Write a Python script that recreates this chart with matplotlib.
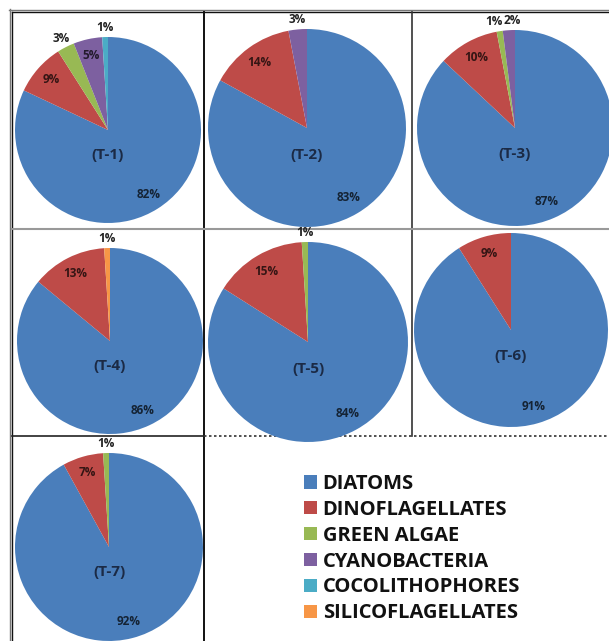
import numpy as np
import matplotlib
matplotlib.use('Agg')
import matplotlib.pyplot as plt
from matplotlib.lines import Line2D
from matplotlib.patches import Rectangle

plt.rcParams['font.family'] = ['Open Sans', 'DejaVu Sans']

groups = ['DIATOMS', 'DINOFLAGELLATES', 'GREEN ALGAE', 'CYANOBACTERIA',
          'COCOLITHOPHORES', 'SILICOFLAGELLATES']
colors = ['#4A7EBB', '#BE4B48', '#98B954', '#7D60A0', '#4BACC6', '#F79646']

stations = ['(T-1)', '(T-2)', '(T-3)', '(T-4)', '(T-5)', '(T-6)', '(T-7)']
t1 = [82, 9, 3, 5, 1, 0]
t2 = [83, 14, 0, 3, 0, 0]
t3 = [87, 10, 1, 2, 0, 0]
t4 = [86, 13, 0, 0, 0, 1]
t5 = [84, 15, 1, 0, 0, 0]
t6 = [91, 9, 0, 0, 0, 0]
t7 = [92, 7, 1, 0, 0, 0]
shares = [t1, t2, t3, t4, t5, t6, t7]

W, H = 609, 641
fig = plt.figure(figsize=(W / 100, H / 100), dpi=100)
fig.patch.set_facecolor('white')

# pie centre and radius in pixels (x from left, y from top)
spots = [(108, 130, 93), (307, 128, 99), (515, 128, 98),
         (110, 341, 93), (308, 342, 100), (511, 330, 97),
         (109, 547, 94)]


def px(x, y):
    return x / W, 1 - y / H


def line(x0, y0, x1, y1, **kw):
    (a, b), (c, d) = px(x0, y0), px(x1, y1)
    fig.add_artist(Line2D([a, c], [b, d], transform=fig.transFigure, zorder=0, **kw))


# cell borders
line(9, 9.5, 609, 9.5, color='#777777', lw=1.0)
line(12, 12, 609, 12, color='#111111', lw=1.0)
line(9.5, 9, 9.5, 641, color='#777777', lw=1.0)
line(12, 12, 12, 641, color='#111111', lw=1.0)
line(203.5, 12, 203.5, 641, color='#111111', lw=1.4)
line(412, 12, 412, 436, color='#333333', lw=1.2)
line(12, 228.5, 609, 228.5, color='#999999', lw=1.5)
line(12, 435.5, 204, 435.5, color='#222222', lw=1.2)
line(204, 435.5, 609, 435.5, color='#333333', lw=1.2, ls=(0, (1.5, 1.5)))

first_wedges = None
for name, vals, (cx, cy, r) in zip(stations, shares, spots):
    left, top = px(cx - r, cy - r)
    ax = fig.add_axes([left, top - 2 * r / H, 2 * r / W, 2 * r / H])
    wedges, _ = ax.pie(vals, colors=colors, startangle=90, counterclock=False,
                       wedgeprops=dict(linewidth=0))
    ax.set_xlim(-1, 1)
    ax.set_ylim(-1, 1)
    if first_wedges is None:
        first_wedges = wedges

    outside = []
    for w, v in zip(wedges, vals):
        if v == 0:
            continue
        ang = np.deg2rad((w.theta1 + w.theta2) / 2)
        if v >= 5:
            ax.text(0.82 * np.cos(ang), 0.82 * np.sin(ang), f'{v}%',
                    ha='center', va='center', fontsize=8.5, fontweight='bold',
                    color='black', alpha=0.72)
        else:
            outside.append([1.1 * np.cos(ang), 1.1 * np.sin(ang), v])

    # spread small-slice labels apart so they do not overlap
    outside.sort(key=lambda p: p[0])
    gap = 0.19
    for i in range(1, len(outside)):
        d = outside[i][0] - outside[i - 1][0]
        if d < gap:
            s = (gap - d) / 2
            outside[i - 1][0] -= s
            outside[i][0] += s
    for x, y, v in outside:
        ax.text(x, y, f'{v}%', ha='center', va='center', fontsize=8.5,
                fontweight='bold', color='#222222')

    ax.text(0, -0.27, name, ha='center', va='center', fontsize=11,
            fontweight='bold', color='#1b2a45')

leg = fig.legend(first_wedges, groups, loc='upper left',
                 bbox_to_anchor=px(294, 464), frameon=False, borderpad=0,
                 prop={'weight': 'bold', 'size': 14.5},
                 handlelength=0.62, handleheight=0.62, handletextpad=0.3,
                 labelspacing=0.29)
for t in leg.get_texts():
    t.set_color('#111111')

# bottom edge of the legend box is cut off
a, b = px(280, 641)
fig.add_artist(Rectangle((a, b), 320 / W, 23 / H, transform=fig.transFigure,
                         facecolor='white', edgecolor='none', zorder=10))

fig.savefig('out.png', dpi=100, facecolor='white')
